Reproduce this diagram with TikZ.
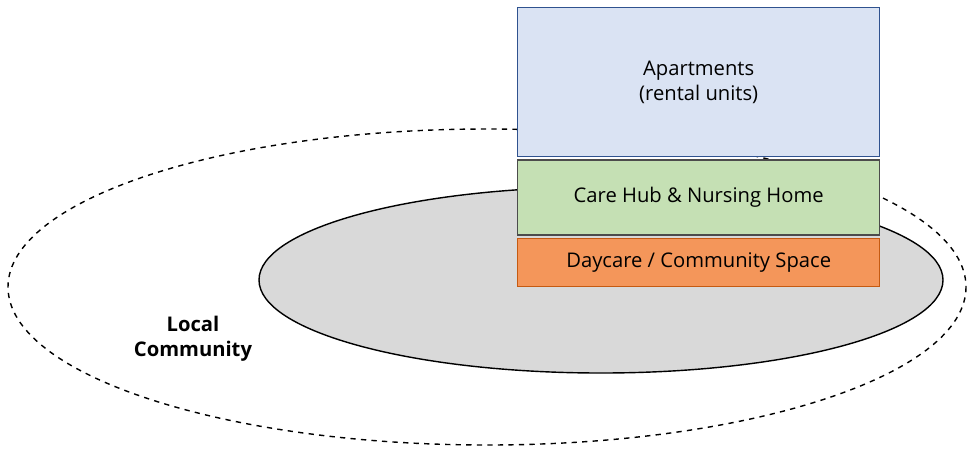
\documentclass[tikz,border=0pt]{standalone}
\usepackage{fontspec}
\setmainfont{Open Sans}
\usetikzlibrary{positioning}
\definecolor{aptfill}{RGB}{218,227,243}
\definecolor{aptdraw}{RGB}{47,82,143}
\definecolor{carefill}{RGB}{197,224,180}
\definecolor{dayfill}{RGB}{244,150,90}
\definecolor{daydraw}{RGB}{197,90,17}
\tikzset{
    % styles
    block/.style={rectangle, minimum width=362*0.02cm, text centered, draw, thick, font=\fontsize{11.5}{14}\selectfont},
    community/.style={draw, dashed, thick},
    site/.style={draw=black, thick, fill=gray!30}
}
\begin{document}
\begin{tikzpicture}[x=0.02cm, y=-0.02cm]
\useasboundingbox (0,0) rectangle (970,454);

% areas
\draw [community] (487,287) ellipse [x radius=479, y radius=158];
\draw [site] (601,280) ellipse [x radius=342, y radius=93];

% blocks
\node (apartments) [block, anchor=north west, minimum height=149*0.02cm, draw=aptdraw, fill=aptfill, align=center] at (517,7) {Apartments\\(rental units)};
\node (carehub) [block, below=0.04cm of apartments, minimum height=75*0.02cm, draw=black!70, fill=carefill] {Care Hub \& Nursing Home};
\node (daycare) [block, below=0.04cm of carehub, minimum height=48*0.02cm, draw=daydraw, fill=dayfill] {Daycare / Community Space};

\node (local) [align=center, font=\fontsize{11.5}{14}\selectfont\bfseries] at (193,339) {Local\\Community};

\end{tikzpicture}
\end{document}
